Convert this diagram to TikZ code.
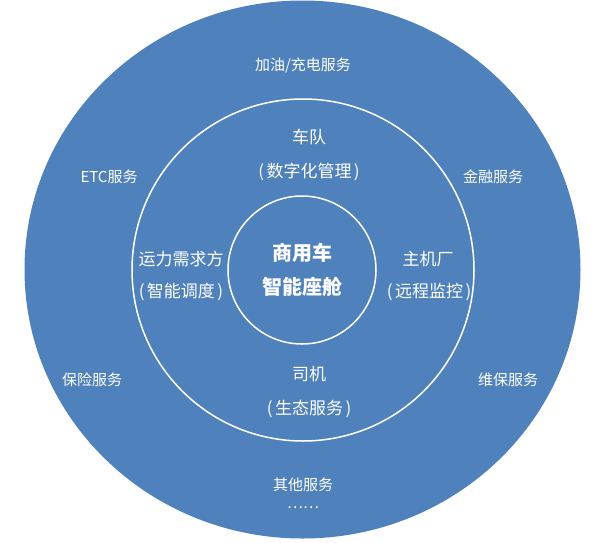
\documentclass[tikz,border=0pt]{standalone}
\usepackage{fontspec}
\setmainfont{Noto Sans CJK SC}
\definecolor{ringblue}{RGB}{79,129,189}
\newcommand{\lpar}{(\kern2.5pt}
\newcommand{\rpar}{\kern2.5pt)}
\tikzset{
  ring/.style={draw=white, line width=1.5pt},
  outertxt/.style={text=white, font=\fontsize{15}{18}\selectfont, inner sep=0pt},
  midtxt/.style={text=white, font=\fontsize{17}{20}\selectfont, inner sep=0pt},
  coretxt/.style={text=white, font=\fontsize{20}{24}\selectfont\bfseries, inner sep=0pt}
}
\begin{document}
\begin{tikzpicture}[x=1pt,y=-1pt]
\useasboundingbox (0,0) rectangle (603,542);
\fill[ringblue] (302.5,269.5) ellipse [x radius=278, y radius=269];
\draw[ring] (303,270) circle [radius=171];
\draw[ring] (302,270) circle [radius=74];
% outer ring
\node[outertxt] (fuel) at (303,66) {加油/充电服务};
\node[outertxt] (etc) at (109,177) {ETC服务};
\node[outertxt] (fin) at (493,177) {金融服务};
\node[outertxt] (ins) at (92,380) {保险服务};
\node[outertxt] (maint) at (508,380) {维保服务};
\node[outertxt] (other) at (303,485) {其他服务};
\node[outertxt] (dots) at (303,508) {……};
% middle ring
\node[midtxt] (fleet) at (309,137) {车队};
\node[midtxt] (fleetsub) at (309,172) {\lpar 数字化管理\rpar};
\node[midtxt] (demand) at (181,259) {运力需求方};
\node[midtxt] (demandsub) at (181,292) {\lpar 智能调度\rpar};
\node[midtxt] (oem) at (428,259) {主机厂};
\node[midtxt] (oemsub) at (429,292) {\lpar 远程监控\rpar};
\node[midtxt] (driver) at (309,374) {司机};
\node[midtxt] (driversub) at (309,409) {\lpar 生态服务\rpar};
% core
\node[coretxt] (core1) at (302,253) {商用车};
\node[coretxt] (core2) at (302,287) {智能座舱};
\end{tikzpicture}
\end{document}
